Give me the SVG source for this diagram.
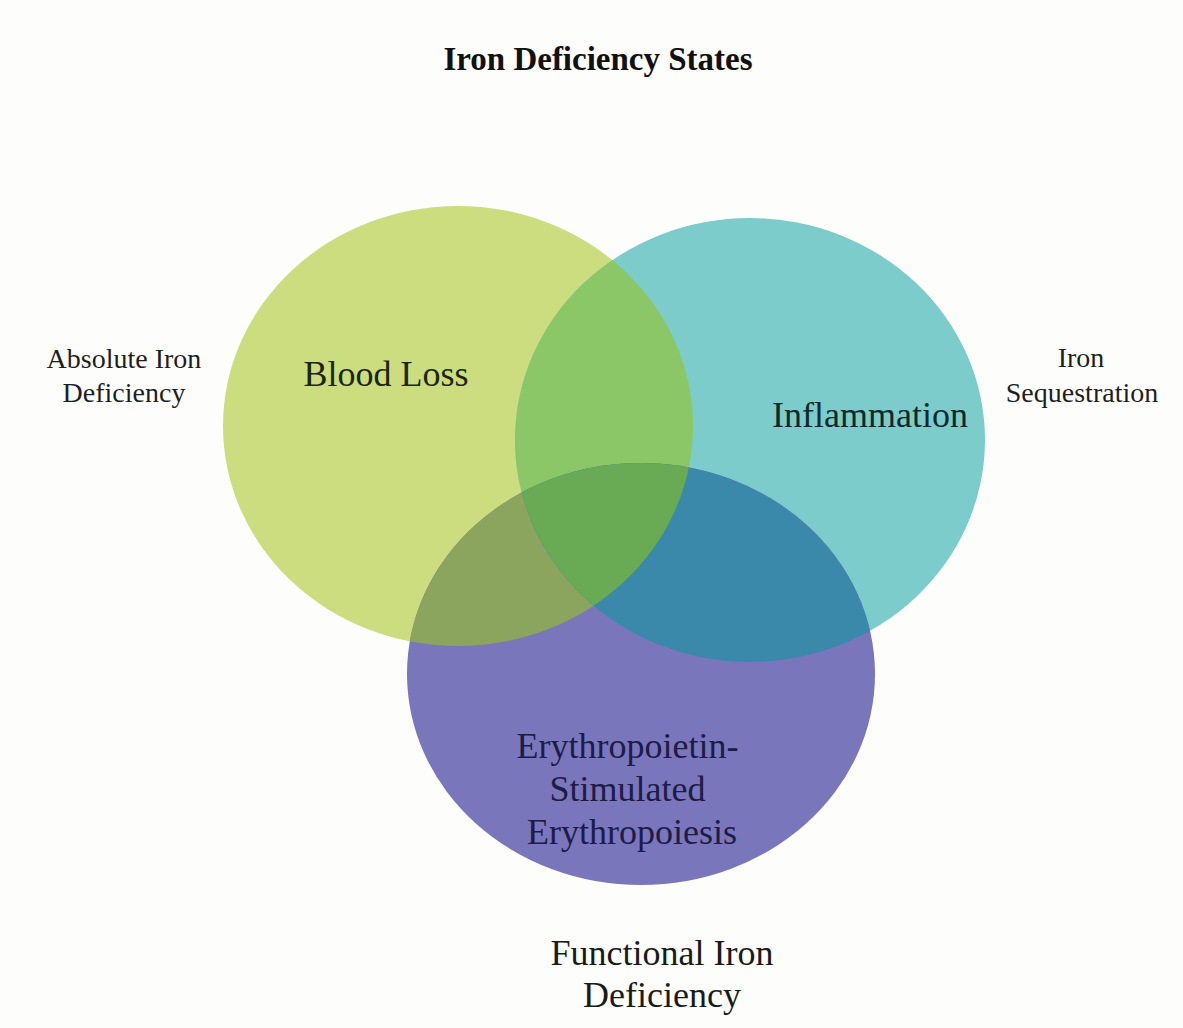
<svg xmlns="http://www.w3.org/2000/svg" width="1183" height="1028" viewBox="0 0 1183 1028">
  <style>
    .t { font-family: "Liberation Serif", "Times New Roman", serif; text-anchor: middle; }
    .title { font-size: 33px; font-weight: bold; fill: #111; }
    .side { font-size: 28px; fill: #1e1e1e; }
    .big { font-size: 36px; }
  </style>
  <defs>
    <ellipse id="eG" cx="458" cy="426" rx="235" ry="220"/>
    <ellipse id="eT" cx="750" cy="440" rx="235" ry="222"/>
    <ellipse id="eP" cx="641" cy="674" rx="234" ry="211"/>
    <clipPath id="cG"><use href="#eG"/></clipPath>
    <clipPath id="cT"><use href="#eT"/></clipPath>
  </defs>
  <rect x="0" y="0" width="1183" height="1028" fill="#fdfefb"/>

  <text class="t title" x="598" y="70">Iron Deficiency States</text>

  <g id="blood-loss">
    <use href="#eG" fill="#cbdd7e"/>
  </g>
  <g id="inflammation">
    <use href="#eT" fill="#7dcccc"/>
  </g>
  <g id="overlap-green-teal">
    <use href="#eT" clip-path="url(#cG)" fill="#8bc766"/>
  </g>
  <g id="erythropoiesis">
    <use href="#eP" fill="#7a76bc"/>
  </g>
  <g id="overlap-green-purple">
    <use href="#eP" clip-path="url(#cG)" fill="#8ba45e"/>
  </g>
  <g id="overlap-teal-purple">
    <use href="#eP" clip-path="url(#cT)" fill="#3a89ab"/>
  </g>
  <g id="overlap-all" clip-path="url(#cT)">
    <use href="#eP" clip-path="url(#cG)" fill="#69aa55"/>
  </g>

  <g id="labels">
    <text class="t big" x="386" y="386" fill="#1d2612">Blood Loss</text>
    <text class="t big" x="870" y="427" fill="#10292b">Inflammation</text>
    <text class="t big" fill="#1c1c46">
      <tspan x="632" y="758">Erythropoietin-</tspan>
      <tspan x="632" y="801">Stimulated</tspan>
      <tspan x="632" y="844">Erythropoiesis</tspan>
    </text>
  </g>

  <g id="absolute-iron-deficiency">
    <text class="t side"><tspan x="124" y="368">Absolute Iron</tspan><tspan x="124" y="402">Deficiency</tspan></text>
  </g>
  <g id="iron-sequestration">
    <text class="t side"><tspan x="1081" y="367">Iron</tspan><tspan x="1082" y="402">Sequestration</tspan></text>
  </g>
  <g id="functional-iron-deficiency">
    <text class="t big" fill="#1a1a1a"><tspan x="662" y="965">Functional Iron</tspan><tspan x="662" y="1007">Deficiency</tspan></text>
  </g>
  <g id="connectors"/>
</svg>
